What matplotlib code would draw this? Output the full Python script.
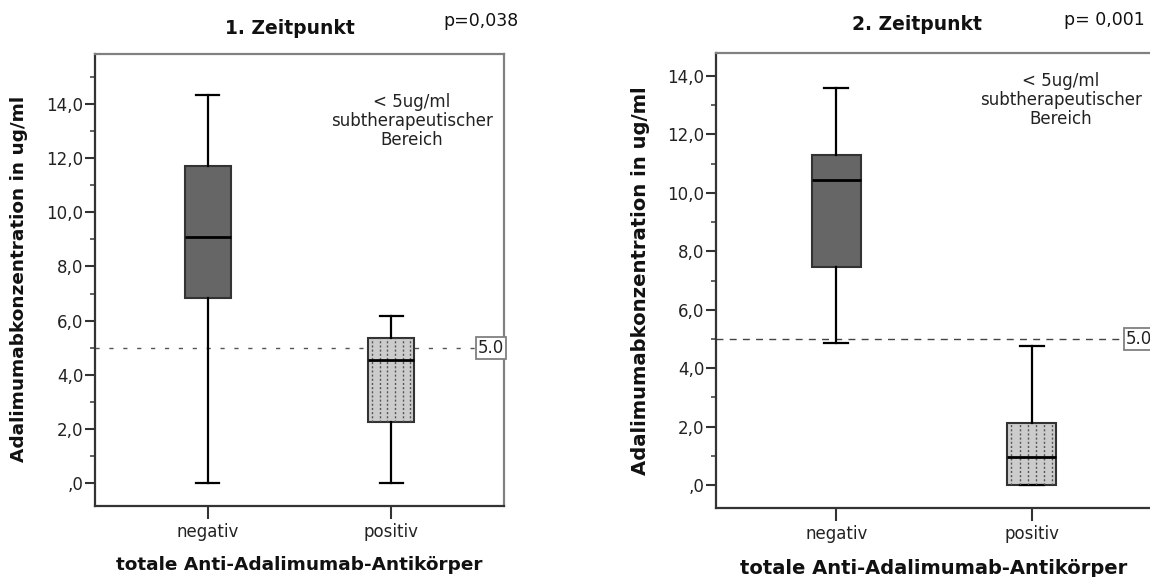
import matplotlib
matplotlib.use("Agg")
import matplotlib.pyplot as plt
from matplotlib.ticker import MultipleLocator, FuncFormatter

# box statistics (ug/ml)
groups = ["negativ", "positiv"]
t1_whislo = [0.0, 0.0]
t1_q1 = [6.83, 2.25]
t1_med = [9.08, 4.54]
t1_q3 = [11.71, 5.36]
t1_whishi = [14.33, 6.17]

t2_whislo = [4.86, 0.0]
t2_q1 = [7.47, 0.0]
t2_med = [10.45, 0.96]
t2_q3 = [11.30, 2.12]
t2_whishi = [13.60, 4.76]

titles = ["1. Zeitpunkt", "2. Zeitpunkt"]
pvals = ["p=0,038", "p= 0,001"]
threshold = 5.0
note = "< 5ug/ml\nsubtherapeutischer\nBereich"
ylab = "Adalimumabkonzentration in ug/ml"
xlab = "totale Anti-Adalimumab-Antikörper"

W, H = 1150, 577
fig = plt.figure(figsize=(W / 100, H / 100), dpi=100)


def fx(px):
    return px / W


def fy(py):
    return 1 - py / H


def comma(v, pos):
    s = f"{v:.1f}".replace(".", ",")
    if s.startswith("0,"):
        s = s[1:]
    return s


def panel(rect, ylim, whislo, q1, med, q3, whishi, refstyle, refcolor):
    ax = fig.add_axes(rect)
    stats = []
    for i in range(len(groups)):
        stats.append(dict(whislo=whislo[i], q1=q1[i], med=med[i], q3=q3[i],
                          whishi=whishi[i], fliers=[], label=groups[i]))
    ax.axhline(threshold, color=refcolor, lw=1.0, ls=refstyle, zorder=1)
    bp = ax.bxp(stats, positions=[0, 1], widths=0.25, patch_artist=True,
                showfliers=False,
                boxprops=dict(edgecolor="#333333", linewidth=1.5),
                medianprops=dict(color="black", linewidth=2.0),
                whiskerprops=dict(color="black", linewidth=1.6),
                capprops=dict(color="black", linewidth=1.6),
                capwidths=0.125, zorder=3)
    bp["boxes"][0].set_facecolor("#666666")
    bp["boxes"][1].set_facecolor("#cccccc")
    # dotted vertical pattern inside the 'positiv' box
    b = bp["boxes"][1]
    left = 1 - 0.125
    xs = [left + 0.25 * (k + 0.5) / 6 for k in range(6)]
    vl = ax.vlines(xs, q1[1], q3[1], colors="#555555", linewidth=1.0,
                   linestyles=(0, (1.5, 1.5)), zorder=3.5)
    vl.set_clip_path(b)
    for m in bp["medians"]:
        m.set_zorder(4)

    ax.set_xlim(-0.615, 1.615)
    ax.set_ylim(*ylim)
    ax.yaxis.set_major_locator(MultipleLocator(2))
    ax.yaxis.set_minor_locator(MultipleLocator(1))
    ax.yaxis.set_major_formatter(FuncFormatter(comma))
    ax.tick_params(axis="y", which="major", length=7.5, width=1.5,
                   color="#333333", pad=1, labelsize=12, labelcolor="#222222")
    ax.tick_params(axis="y", which="minor", length=3.8, width=1.3,
                   color="#555555")
    ax.tick_params(axis="x", length=9, width=1.5, color="#333333", pad=3,
                   labelsize=12, labelcolor="#222222")
    for s in ("left", "bottom"):
        ax.spines[s].set_color("#333333")
        ax.spines[s].set_linewidth(1.6)
    for s in ("top", "right"):
        ax.spines[s].set_color("#808080")
        ax.spines[s].set_linewidth(1.6)
    ax.text(1.0, threshold, "5.0", transform=ax.get_yaxis_transform(),
            ha="right", va="center", fontsize=12, color="#222222", zorder=5,
            bbox=dict(boxstyle="square,pad=0.12", fc="white", ec="#808080",
                      lw=1.3))
    return ax


panel([fx(95), fy(506), fx(409), 452 / H], (-0.85, 15.85),
      t1_whislo, t1_q1, t1_med, t1_q3, t1_whishi, (0, (3, 7)), "#555555")
panel([fx(716), fy(508), fx(436), 455 / H], (-0.787, 14.79),
      t2_whislo, t2_q1, t2_med, t2_q3, t2_whishi, (0, (5, 4.5)), "#444444")

# titles, p values, notes, axis labels
fig.text(fx(290), fy(29), titles[0], ha="center", va="center",
         fontsize=13.5, fontweight="bold", color="#111111")
fig.text(fx(917), fy(25), titles[1], ha="center", va="center",
         fontsize=13.5, fontweight="bold", color="#111111")
fig.text(fx(443), fy(21), pvals[0], ha="left", va="center", fontsize=12.5,
         color="#111111")
fig.text(fx(1064), fy(20), pvals[1], ha="left", va="center", fontsize=12.5,
         color="#111111")
fig.text(fx(412), fy(121), note, ha="center", va="center", fontsize=12,
         linespacing=1.05, color="#222222")
fig.text(fx(1061), fy(100), note, ha="center", va="center", fontsize=12,
         linespacing=1.05, color="#222222")
fig.text(fx(19), fy(279), ylab, rotation=90, ha="center", va="center",
         fontsize=13.3, fontweight="bold", color="#111111")
fig.text(fx(641), fy(281), ylab, rotation=90, ha="center", va="center",
         fontsize=14.1, fontweight="bold", color="#111111")
fig.text(fx(299), fy(565), xlab, ha="center", va="center",
         fontsize=13.3, fontweight="bold", color="#111111")
fig.text(fx(934), fy(568), xlab, ha="center", va="center",
         fontsize=14, fontweight="bold", color="#111111")

fig.savefig("out.png", dpi=100)
